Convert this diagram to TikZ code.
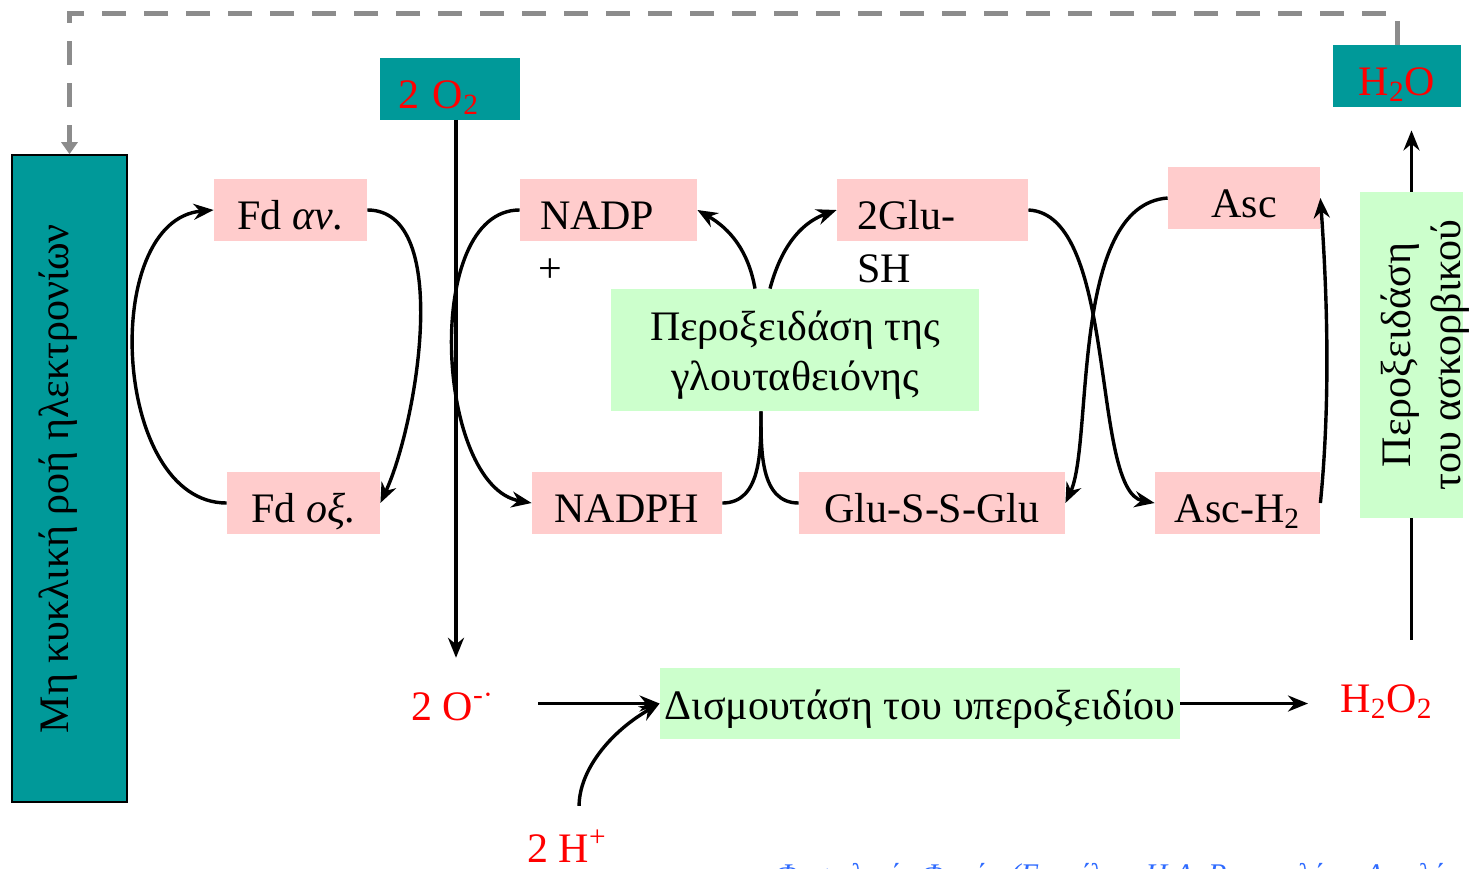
\documentclass[tikz,border=0pt]{standalone}
\usepackage{fontspec}
\setmainfont{Liberation Serif}
\usetikzlibrary{arrows.meta}
\definecolor{tealbox}{HTML}{009999}
\definecolor{pinkbox}{HTML}{FFCCCC}
\definecolor{greenbox}{HTML}{CCFFCC}
\definecolor{dashgray}{HTML}{8C8C8C}
\definecolor{srcblue}{HTML}{2F6BFF}

\begin{document}
\begin{tikzpicture}[
    x=0.5pt, y=-0.5pt,
    font=\fontsize{21}{25}\selectfont,
    species/.style={fill=pinkbox, inner sep=0pt, minimum height=31pt,
                    text height=19.5pt, text depth=0pt},
    cargo/.style={fill=tealbox, inner sep=0pt, minimum height=31pt,
                  text height=19.5pt, text depth=0pt, text=red},
    enzyme/.style={fill=greenbox, inner sep=0pt, align=center},
    freetext/.style={inner sep=0pt, anchor=base west},
    arrow/.style={draw, line width=1.7pt, ->, >={Stealth[length=10pt, width=8pt]}},
    link/.style={draw, line width=1.7pt},
    dashline/.style={draw=dashgray, line width=2.5pt, dash pattern=on 12pt off 9pt,
                     ->, >={Triangle[length=6pt, width=8pt]}},
]
\useasboundingbox (0,0) rectangle (1471,868);

% Mη κυκλική ροή
\node[fill=tealbox, draw=black, line width=0.8pt, rotate=90, inner sep=0pt,
      minimum width=323.5pt, minimum height=57.5pt,
      text height=10pt, text depth=11.5pt] (mh) at (69.5,478.5)
      {Μη κυκλική ροή ηλεκτρονίων};

% O2 / H2O
\node[cargo, text width=52pt, inner xsep=9pt, align=left] (o2box) at (450,88.5)
      {2 O\textsubscript{2}};
\node[cargo, minimum width=64pt] (h2obox) at (1397,76) {H\textsubscript{2}O};

% Ferredoxin
\node[species, minimum width=76.5pt] (fdred) at (290.5,210) {Fd \textit{αν.}};
\node[species, minimum width=76.5pt] (fdox) at (303.5,503) {Fd \textit{οξ.}};

% NADP
\node[species, text width=68.5pt, inner xsep=10pt, align=left] (nadp) at (608.5,210) {NADP};
\node[freetext] (nadpplus) at (538,282) {+};
\node[species, minimum width=95pt] (nadph) at (627,503) {NADPH};

% Glutathione
\node[enzyme, minimum width=184pt, minimum height=61pt,
      text height=40pt, text depth=0pt] (gpx) at (795,350)
      {Περοξειδάση της\\γλουταθειόνης};
\node[species, text width=75.5pt, inner xsep=10pt, align=left] (glush) at (932.5,210) {2Glu-};
\node[freetext] (shtail) at (857,282) {SH};
\node[species, minimum width=133pt] (gssg) at (932,503) {Glu-S-S-Glu};

% Ascorbate
\node[species, minimum width=76pt] (asc) at (1244,198) {Asc};
\node[species, minimum width=82.5pt] (asch2) at (1237.5,503) {Asc-H\textsubscript{2}};
\node[enzyme, rotate=90, minimum width=163pt, minimum height=51.5pt,
      text height=48.5pt, text depth=0pt] (apx) at (1411.5,355)
      {Περοξειδάση\\του ασκορβικού};

% Superoxide
\node[freetext, text=red] (sox) at (411,720) {2 O\textsuperscript{-·}};
\node[enzyme, minimum width=260pt, minimum height=35.5pt,
      text height=16pt, text depth=0pt] (dism) at (920,703.5)
      {Δισμουτάση του υπεροξειδίου};
\node[freetext, text=red] (h2o2) at (1340,712) {H\textsubscript{2}O\textsubscript{2}};
\node[freetext, text=red] (hplus) at (527,862) {2 H\textsuperscript{+}};

% Source
\node[freetext, font=\fontsize{15}{18}\selectfont\itshape, text=srcblue] (source) at (775,884)
      {Φυσιολογία Φυτών (Επιμέλεια Η.Α. Ρουμπελάκη-Αγγελάκη)};

% Fd cycle
\draw[arrow] (fdox.west) to[out=180, in=185, looseness=1.0] (fdred.west);
\draw[arrow] (fdred.east) to[out=0, in=65, looseness=0.75] (fdox.east);

% NADP cycle
\draw[arrow] (nadp.west) to[out=180, in=170, looseness=0.85] (nadph.west);
\draw[arrow] ([xshift=-20pt]gpx.north) to[out=100, in=-30] (nadp.east);
\draw[arrow] ([xshift=-12.5pt]gpx.north) to[out=75, in=200] (glush.west);
\draw[link] (nadph.east) to[out=0, in=-90] ([xshift=-17pt]gpx.south);
\draw[link] (gssg.west) to[out=180, in=-90] ([xshift=-17pt]gpx.south);

% Glu / Asc cycle
\draw[arrow] (glush.east) .. controls +(45pt,-2pt) and +(-32pt,6pt) .. (asch2.west);
\draw[arrow] (asc.west) .. controls +(-49pt,-3.5pt) and +(14pt,30pt) .. (gssg.east);
\draw[arrow] (asch2.east) .. controls +(5pt,51pt) and +(3.5pt,-50pt) .. (asc.east);

% O2 -> superoxide -> H2O2 -> H2O
\draw[arrow, shorten >=17pt] ([xshift=3pt]o2box.south) -- ([xshift=3pt]o2box.south |- sox.north);
\draw[arrow, shorten <=22pt] (dism.west -| sox.east) -- (dism.west);
\draw[arrow, shorten <=12pt] ([xshift=6pt]hplus.north) to[out=90, in=210] (dism.west);
\draw[arrow, shorten >=16pt] (dism.east) -- (dism.east -| h2o2.west);
\draw[link, shorten <=22pt] (apx.west |- h2o2.north) -- (apx.west);
\draw[arrow, shorten >=11.5pt] (apx.east) -- (apx.east |- h2obox.south);

% back to the chain
\draw[dashline] (h2obox.north) -- ++(0,-31) -| (mh.east);

\end{tikzpicture}
\end{document}
